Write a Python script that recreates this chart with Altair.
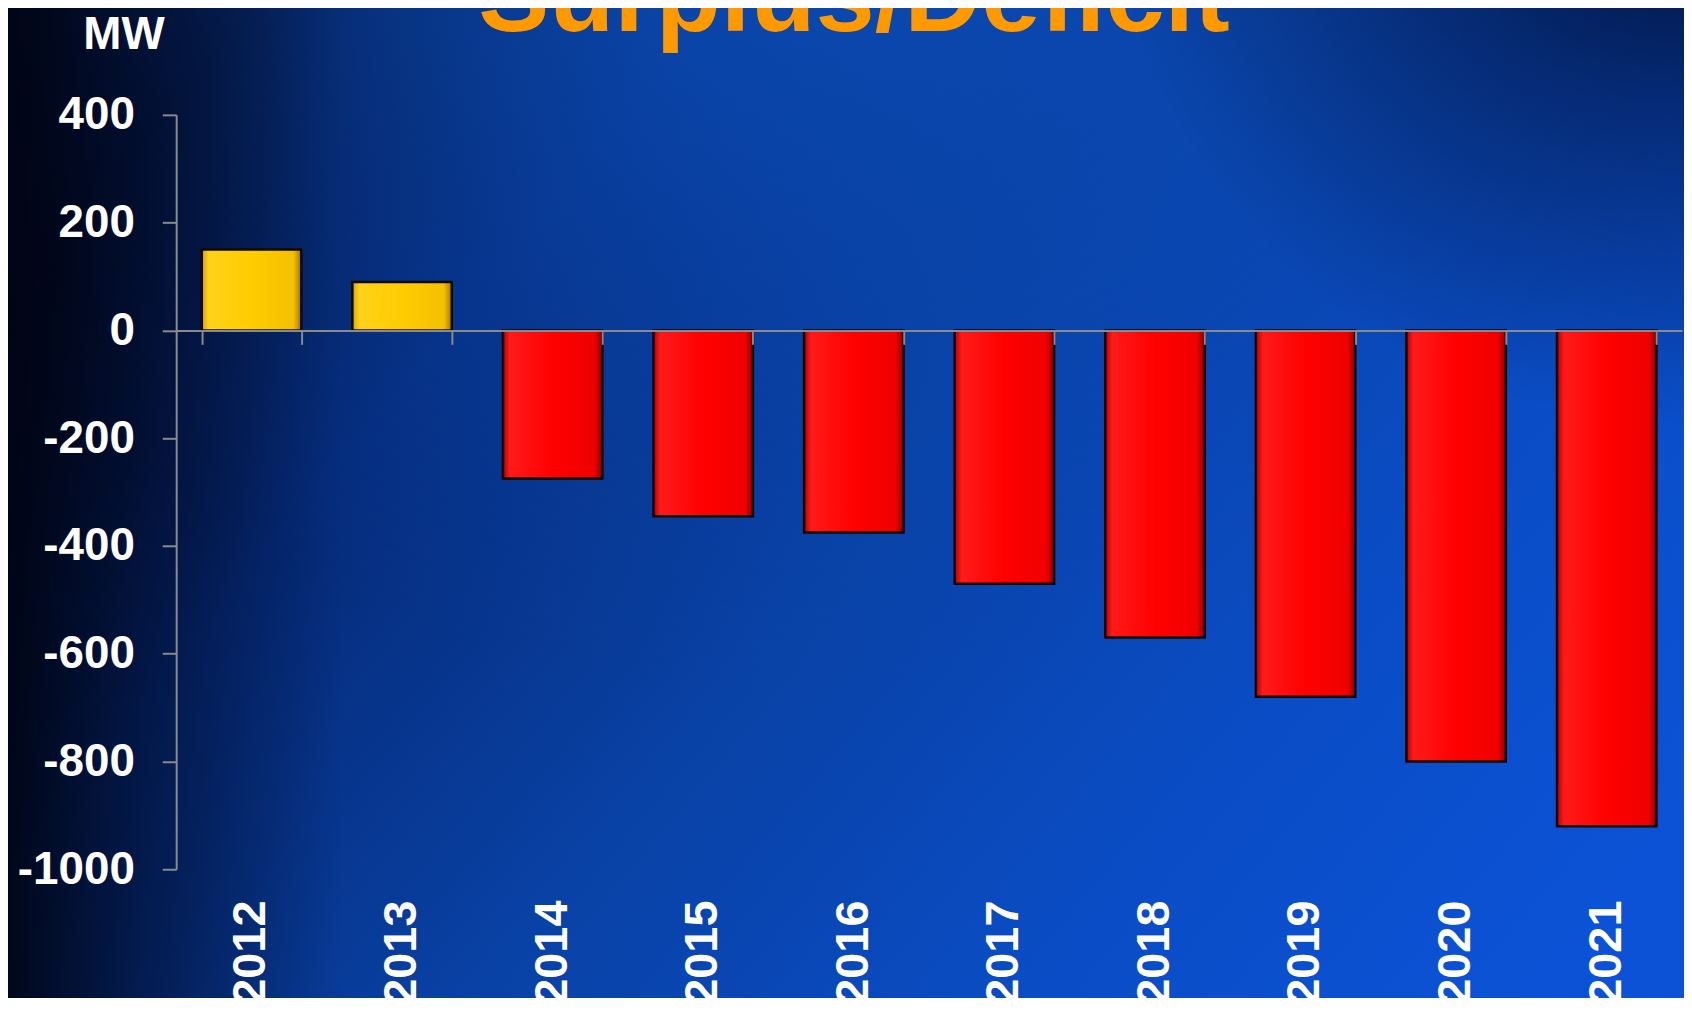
import altair as alt
import pandas as pd

# ---- data ----
years = ["2012", "2013", "2014", "2015", "2016", "2017", "2018", "2019", "2020", "2021"]
values = [150, 90, -275, -345, -375, -470, -570, -680, -800, -920]
y_ticks = [-1000, -800, -600, -400, -200, 0, 200, 400]
title_text = "Surplus/Deficit"
unit_text = "MW"

# ---- layout ----
W, H = 1513, 758
PAD_L, PAD_T, PAD_B, PAD_R = 169, 105, 127, 2
Y_MIN, Y_MAX = -1000, 400
zero_offset = -(H - H * Y_MAX / (Y_MAX - Y_MIN))

df = pd.DataFrame({"year": years, "value": values})
one = pd.DataFrame({"k": [0]})

FONT = "Liberation Sans"
AX = "#8a8a8a"


def full_rect(grad):
    return alt.Chart(one).mark_rect(color=grad).encode(
        x=alt.value(-170), x2=alt.value(1520), y=alt.value(-110), y2=alt.value(905)
    )


bg = full_rect(alt.Gradient(
    gradient="linear", x1=0, y1=0.3, x2=1, y2=0.8,
    stops=[
        alt.GradientStop(color="#020a28", offset=0),
        alt.GradientStop(color="#052a78", offset=0.22),
        alt.GradientStop(color="#0942a6", offset=0.5),
        alt.GradientStop(color="#0a4cc4", offset=0.75),
        alt.GradientStop(color="#0b52d6", offset=1),
    ],
))

top_glow = full_rect(alt.Gradient(
    gradient="radial", x1=0.45, y1=0.0, r1=0, x2=0.45, y2=0.0, r2=0.6,
    stops=[
        alt.GradientStop(color="rgba(14,95,210,0.9)", offset=0),
        alt.GradientStop(color="rgba(12,82,195,0.5)", offset=0.5),
        alt.GradientStop(color="rgba(10,70,180,0)", offset=1),
    ],
))

right_dark = full_rect(alt.Gradient(
    gradient="radial", x1=1.0, y1=0.1, r1=0, x2=1.0, y2=0.1, r2=0.35,
    stops=[
        alt.GradientStop(color="rgba(0,4,30,0.9)", offset=0),
        alt.GradientStop(color="rgba(0,4,30,0.45)", offset=0.45),
        alt.GradientStop(color="rgba(0,4,30,0)", offset=1),
    ],
))

left_dark = full_rect(alt.Gradient(
    gradient="linear", x1=0, x2=1, y1=0, y2=0,
    stops=[
        alt.GradientStop(color="rgba(0,3,16,0.9)", offset=0),
        alt.GradientStop(color="rgba(0,4,22,0.5)", offset=0.08),
        alt.GradientStop(color="rgba(0,5,25,0)", offset=0.2),
        alt.GradientStop(color="rgba(0,5,30,0)", offset=1),
    ],
))

x_scale = alt.Scale(paddingInner=0.34, paddingOuter=0.17)
y_enc = alt.Y(
    "value:Q",
    scale=alt.Scale(domain=[Y_MIN, Y_MAX], nice=False, zero=False),
    axis=alt.Axis(
        values=y_ticks,
        labelExpr="replace(format(datum.value, 'd'), '\u2212', '-')",
        grid=False,
        zindex=1,
        domainColor=AX, domainWidth=2,
        tickColor=AX, tickWidth=2, tickSize=14,
        labelFont=FONT, labelFontSize=46, labelFontWeight="bold", labelColor="white",
        labelPadding=28,
        title=unit_text, titleAngle=0, titleX=-53, titleY=-67,
        titleAlign="center", titleBaseline="alphabetic",
        titleFont=FONT, titleFontSize=46, titleFontWeight="bold", titleColor="white",
    ),
)

pos_bars = alt.Chart(df).transform_filter("datum.value >= 0").mark_bar(
    color=alt.Gradient(
        gradient="linear", x1=0, x2=1, y1=0, y2=0,
        stops=[
            alt.GradientStop(color="#d9a200", offset=0),
            alt.GradientStop(color="#ffd21a", offset=0.07),
            alt.GradientStop(color="#ffcc00", offset=0.5),
            alt.GradientStop(color="#f5c000", offset=0.92),
            alt.GradientStop(color="#a87a00", offset=1),
        ],
    ),
    stroke="#110a00", strokeWidth=2.5,
).encode(
    x=alt.X(
        "year:N", sort=years, scale=x_scale,
        axis=alt.Axis(
            orient="bottom", offset=zero_offset, labels=False, title=None,
            domainColor=AX, domainWidth=2, zindex=1,
            ticks=True, tickBand="extent", tickSize=14, tickColor=AX, tickWidth=2,
        ),
    ),
    y=y_enc,
)

neg_bars = alt.Chart(df).transform_filter("datum.value < 0").mark_bar(
    color=alt.Gradient(
        gradient="linear", x1=0, x2=1, y1=0, y2=0,
        stops=[
            alt.GradientStop(color="#b00000", offset=0),
            alt.GradientStop(color="#ff1a1a", offset=0.07),
            alt.GradientStop(color="#ff0000", offset=0.5),
            alt.GradientStop(color="#f00000", offset=0.92),
            alt.GradientStop(color="#8a0000", offset=1),
        ],
    ),
    stroke="#150000", strokeWidth=2.5,
).encode(
    x=alt.X(
        "year:N", sort=years, scale=x_scale,
        axis=alt.Axis(
            orient="bottom", title=None, domain=False, ticks=False, tickSize=0,
            labelAngle=-90, labelPadding=31, zindex=1,
            labelFont=FONT, labelFontSize=47, labelFontWeight="bold", labelColor="white",
        ),
    ),
    y=y_enc,
)

title = alt.Chart(one).mark_text(
    text=title_text, font=FONT, fontSize=107, fontWeight="bold", color="#FF9900",
    align="center", baseline="alphabetic",
).encode(x=alt.value(681), y=alt.value(-84))

chart = alt.layer(
    bg, top_glow, right_dark, left_dark, pos_bars, neg_bars, title
).resolve_axis(
    x="independent"
).properties(
    width=W, height=H,
    padding={"left": PAD_L, "top": PAD_T, "right": PAD_R, "bottom": PAD_B},
    autosize=alt.AutoSizeParams(type="none"),
    background="#021040",
).configure_view(strokeWidth=0)

chart.save("out.html", embed_options={"renderer": "svg", "actions": False})
